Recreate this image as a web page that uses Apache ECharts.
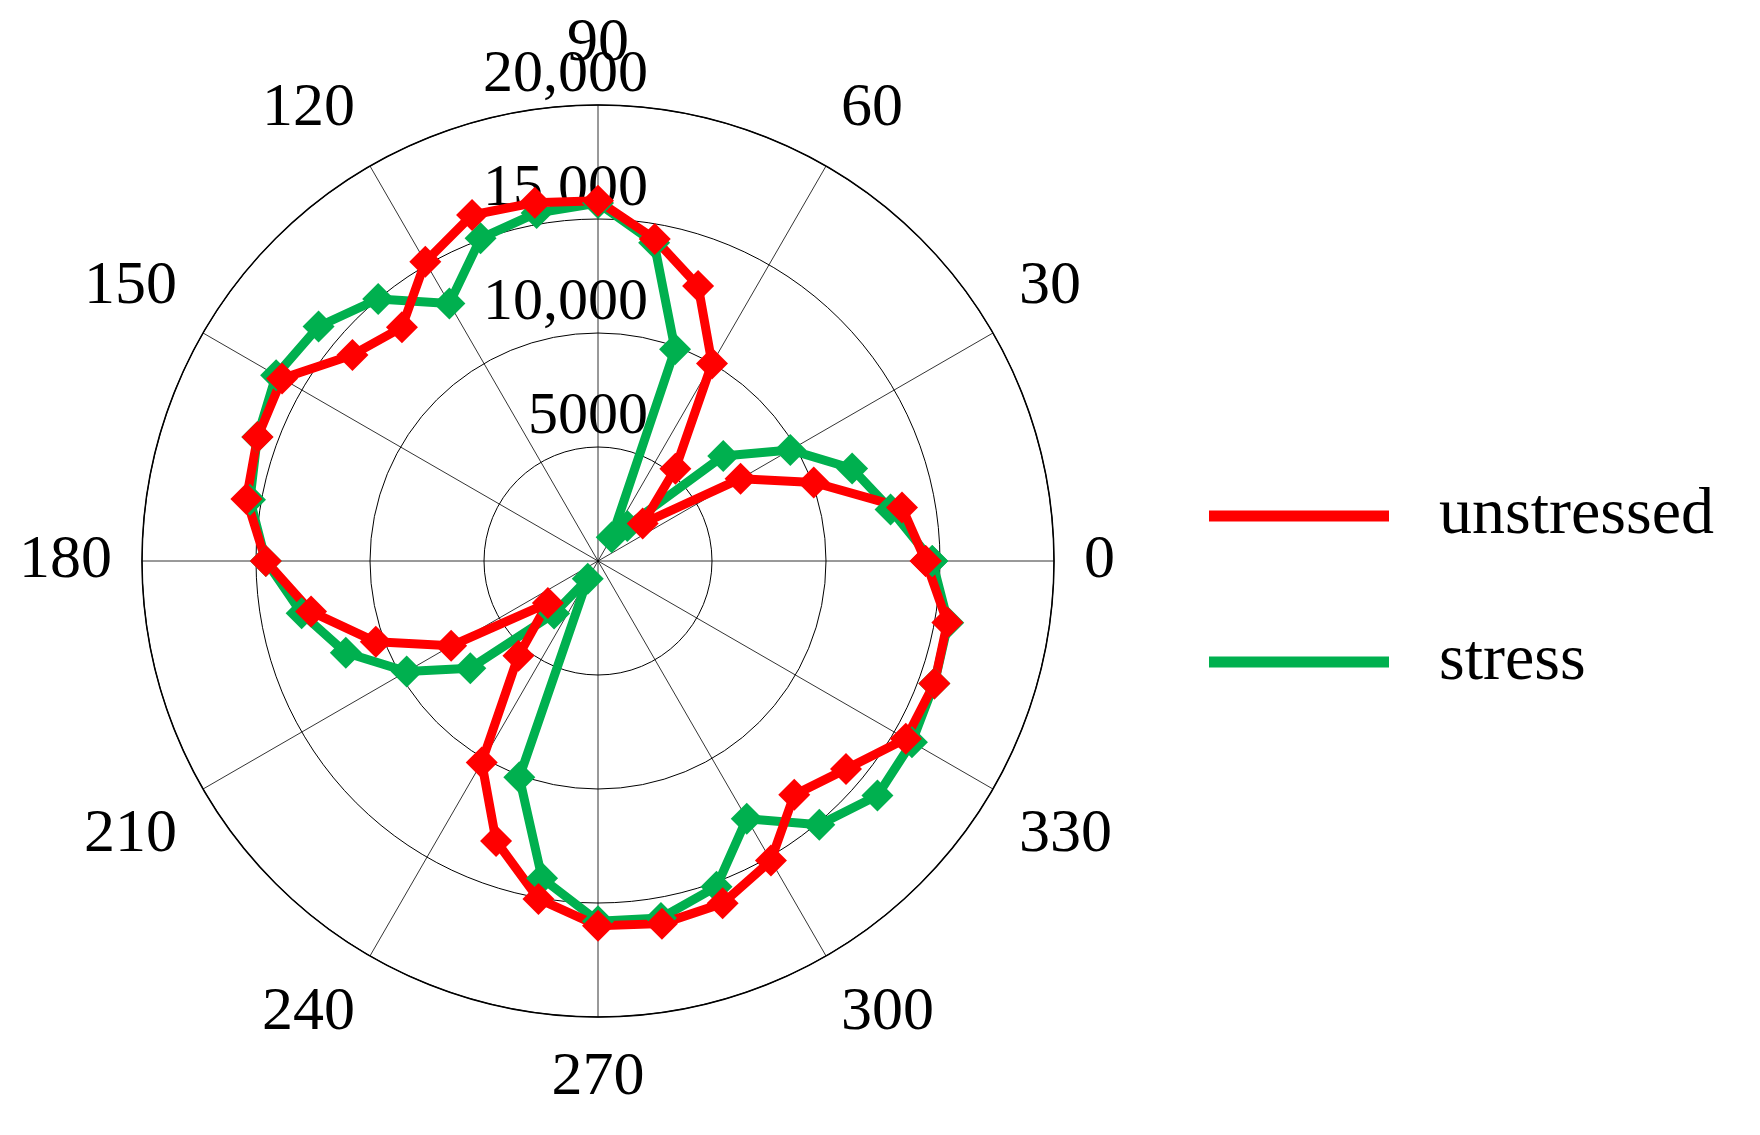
<!DOCTYPE html>
<html>
<head>
<meta charset="utf-8">
<script src="https://cdn.jsdelivr.net/npm/echarts@6/dist/echarts.min.js"></script>
<style>
  html, body { margin: 0; padding: 0; background: #fff; }
  #chart { width: 1760px; height: 1135px; }
</style>
</head>
<body>
<div id="chart"></div>
<script>
// angles in degrees, 0..350 every 10
var angles = [0, 10, 20, 30, 40, 50, 60, 70, 80, 90, 100, 110, 120, 130, 140, 150, 160, 170,
    180, 190, 200, 210, 220, 230, 240, 250, 260, 270, 280, 290, 300, 310, 320, 330, 340, 350];
var unstressed = [14370, 13540, 10070, 7220, 2560, 5280, 10000, 12840, 14340, 15800, 15960, 16150,
    15150, 13380, 14060, 16000, 15890, 15660, 14570, 12780, 10370, 7440, 2870, 5430, 10200, 13070,
    15050, 16000, 16150, 15980, 15170, 13390, 14200, 15590, 15700, 15560];
var stress = [14660, 13030, 11860, 9740, 7170, 2000, 1200, 9880, 14170, 15700, 15500, 15060,
    13040, 15000, 16000, 16300, 15900, 15500, 14570, 13200, 11770, 9690, 7310, 3000, 900, 10090,
    14130, 15800, 15900, 15200, 13050, 15100, 16000, 15900, 15700, 15600];
var radiusTicks = [0, 5000, 10000, 15000, 20000];

var serif = 'Liberation Serif';

var init_polarChart = function () {
    var myChart = echarts.init(document.getElementById('chart'));
    // start the angle axis at the top so the radius labels sit on the 90 line
    var toData = function (vals) {
        var pts = vals.map(function (v, i) {
            return [v, (angles[i] - 90 + 360) % 360];
        });
        pts.push([vals[0], 270]); // close the loop
        return pts;
    };
    var option = {
        animation: false,
        polar: {
            center: [598, 561],
            radius: 456
        },
        angleAxis: {
            type: 'value',
            min: 0,
            max: 360,
            interval: 30,
            startAngle: 90,
            clockwise: false,
            axisLine: { lineStyle: { color: '#000', width: 1.5 } },
            axisTick: { show: false },
            axisLabel: {
                margin: 30,
                fontFamily: serif,
                fontSize: 62,
                color: '#000',
                formatter: function (v) {
                    if (v === 360) return '';
                    return String((v + 90) % 360);
                }
            },
            splitLine: { show: true, lineStyle: { color: '#000', width: 0.8 } }
        },
        radiusAxis: {
            min: 0,
            max: 20000,
            interval: 5000,
            axisLine: { show: false },
            axisTick: { show: false },
            axisLabel: {
                fontFamily: serif,
                fontSize: 60,
                color: '#000',
                align: 'right',
                verticalAlign: 'bottom',
                margin: -50,
                formatter: function (v) {
                    if (v === 0) return '';
                    return v >= 10000 ? echarts.format.addCommas(v) : String(v);
                }
            },
            splitLine: { show: true, lineStyle: { color: '#000', width: 1 } }
        },
        legend: {
            orient: 'vertical',
            left: 1204,
            top: 478,
            itemWidth: 180,
            itemHeight: 11,
            itemGap: 80,
            icon: 'rect',
            textStyle: { fontFamily: serif, fontSize: 66, color: '#000', padding: [0, 0, 0, 45] },
            data: ['unstressed', 'stress']
        },
        series: [{
            name: 'stress',
            type: 'line',
            coordinateSystem: 'polar',
            data: toData(stress),
            symbol: 'diamond',
            symbolSize: 32,
            color: '#00b04f',
            lineStyle: { width: 9 }
        }, {
            name: 'unstressed',
            type: 'line',
            coordinateSystem: 'polar',
            data: toData(unstressed),
            symbol: 'diamond',
            symbolSize: 32,
            color: '#ff0000',
            lineStyle: { width: 9 }
        }]
    };
    myChart.setOption(option);
};

init_polarChart();
</script>
</body>
</html>
